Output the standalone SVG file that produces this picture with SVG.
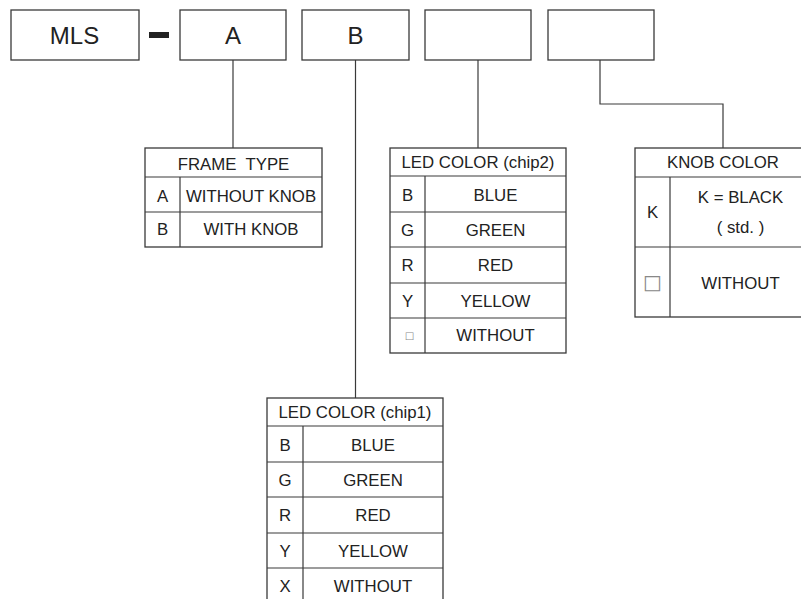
<svg xmlns="http://www.w3.org/2000/svg" width="801" height="599" viewBox="0 0 801 599">
<style>
.b{fill:#fff;stroke:#3a3a3a;stroke-width:1.3}
.l{fill:none;stroke:#3a3a3a;stroke-width:1.2}
text{font-family:"Liberation Sans",Arial,sans-serif;fill:#222;text-anchor:middle}
.big{font-size:24px}
.t{font-size:16.8px}
.sq{font-family:"DejaVu Sans",sans-serif;fill:#888}
</style>
<rect width="801" height="599" fill="#fff"/>
<g id="connectors">
<path class="l" d="M233 60V148"/>
<path class="l" d="M355.5 60V398"/>
<path class="l" d="M478 60V148"/>
<path class="l" d="M600 60V104H723V148"/>
</g>
<g id="box-mls"><rect class="b" x="11" y="10" width="128" height="50"/><text class="big" x="74.5" y="44.3">MLS</text></g>
<rect id="dash" x="149" y="32" width="20" height="6" fill="#222"/>
<g id="box-a"><rect class="b" x="180" y="10" width="106" height="50"/><text class="big" x="233" y="44.3">A</text></g>
<g id="box-b"><rect class="b" x="302" y="10" width="107" height="50"/><text class="big" x="355.5" y="44.3">B</text></g>
<g id="box-4"><rect class="b" x="425" y="10" width="106" height="50"/></g>
<g id="box-5"><rect class="b" x="548" y="10" width="106" height="50"/></g>

<g id="frame-type">
<rect class="b" x="145" y="148" width="177" height="99"/>
<path class="l" d="M145 177H322M145 212H322M180 177V247"/>
<text class="t" x="233.5" y="170">FRAME&#160; TYPE</text>
<text class="t" x="162.5" y="201.7">A</text><text class="t" x="251" y="201.7">WITHOUT KNOB</text>
<text class="t" x="162.5" y="235">B</text><text class="t" x="251" y="235">WITH KNOB</text>
</g>

<g id="led-chip2">
<rect class="b" x="390" y="148" width="176" height="205"/>
<path class="l" d="M390 176H566M390 212H566M390 247H566M390 283H566M390 318H566M425 176V353"/>
<text class="t" x="478" y="168.3">LED COLOR (chip2)</text>
<text class="t" x="407.5" y="201">B</text><text class="t" x="495.5" y="201">BLUE</text>
<text class="t" x="407.5" y="236">G</text><text class="t" x="495.5" y="236">GREEN</text>
<text class="t" x="407.5" y="271.3">R</text><text class="t" x="495.5" y="271.3">RED</text>
<text class="t" x="407.5" y="306.7">Y</text><text class="t" x="495.5" y="306.7">YELLOW</text>
<text class="sq" x="409.5" y="339" font-size="10">□</text><text class="t" x="495.5" y="341">WITHOUT</text>
</g>

<g id="knob-color">
<rect class="b" x="635" y="148" width="176" height="169"/>
<path class="l" d="M635 177H811M635 247H811M670 177V317"/>
<text class="t" x="723" y="168.3">KNOB COLOR</text>
<text class="t" x="652.5" y="218.3">K</text>
<text class="t" x="740.5" y="203.3">K = BLACK</text>
<text class="t" x="740.5" y="233.3">( std. )</text>
<text class="sq" x="652.5" y="289" font-size="20">□</text><text class="t" x="740.5" y="289">WITHOUT</text>
</g>

<g id="led-chip1">
<rect class="b" x="267" y="398" width="176" height="210"/>
<path class="l" d="M267 426H443M267 462H443M267 497H443M267 533H443M267 568H443M303 426V608"/>
<text class="t" x="355" y="418.3">LED COLOR (chip1)</text>
<text class="t" x="285" y="451">B</text><text class="t" x="373" y="451">BLUE</text>
<text class="t" x="285" y="486">G</text><text class="t" x="373" y="486">GREEN</text>
<text class="t" x="285" y="521">R</text><text class="t" x="373" y="521">RED</text>
<text class="t" x="285" y="556.7">Y</text><text class="t" x="373" y="556.7">YELLOW</text>
<text class="t" x="285" y="591.7">X</text><text class="t" x="373" y="591.7">WITHOUT</text>
</g>
</svg>
